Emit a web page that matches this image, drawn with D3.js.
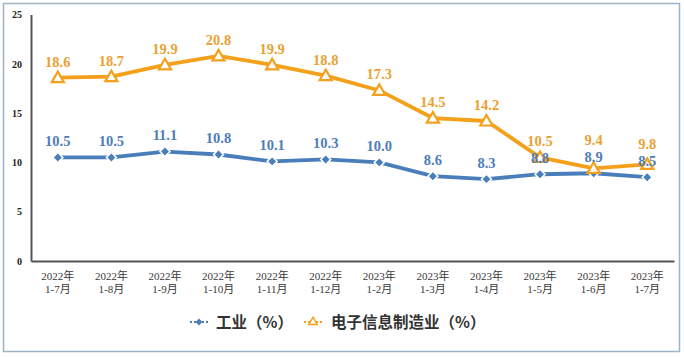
<!DOCTYPE html>
<html><head><meta charset="utf-8">
<script src="https://cdn.jsdelivr.net/npm/d3@7"></script>
<style>body{margin:0;background:#fff;}svg{display:block;}</style>
</head><body>
<svg id="c" width="684" height="357"></svg>
<script>
const categories = ["2022年|1-7月","2022年|1-8月","2022年|1-9月","2022年|1-10月","2022年|1-11月","2022年|1-12月","2023年|1-2月","2023年|1-3月","2023年|1-4月","2023年|1-5月","2023年|1-6月","2023年|1-7月"];
const industry = [10.5,10.5,11.1,10.8,10.1,10.3,10.0,8.6,8.3,8.8,8.9,8.5];
const electronics = [18.6,18.7,19.9,20.8,19.9,18.8,17.3,14.5,14.2,10.5,9.4,9.8];
const yTicks = [0,5,10,15,20,25];
const seriesNames = ["工业（%）","电子信息制造业（%）"];

const svg = d3.select("#c");
const blue = "#4A7EBB", orange = "#F5A01A";
const blueText = "#4F7DB8", orangeText = "#E9A232";

svg.append("rect").attr("x",3.5).attr("y",3.5).attr("width",676).attr("height",348)
  .attr("fill","#fff").attr("stroke","#9fb3c8").attr("stroke-width",1.5);

const x = d3.scaleBand().domain(categories).range([31,674]);
const y = d3.scaleLinear().domain([0,25]).range([261,14.5]);
const cx = d => x(d) + x.bandwidth()/2;

// y axis
const yAxis = svg.append("g").attr("transform","translate(31,0)")
  .call(d3.axisLeft(y).tickValues(yTicks).tickSize(0).tickPadding(9));
yAxis.select(".domain").attr("stroke","#555").attr("stroke-width",2);
yAxis.selectAll("text").attr("font-family","Liberation Serif, serif").attr("font-weight","bold")
  .attr("font-size",10).attr("fill","#222");

// x axis
const xAxis = svg.append("g").attr("transform","translate(0,261)")
  .call(d3.axisBottom(x).tickSize(0).tickFormat(""));
xAxis.select(".domain").attr("stroke","#555").attr("stroke-width",2);
xAxis.selectAll(".tick").each(function(d){
  const parts = d.split("|");
  const t = d3.select(this).append("text").attr("fill","#3a3a3a")
    .attr("font-family","Liberation Serif, Noto Sans CJK SC, serif").attr("font-size",11)
    .attr("text-anchor","middle");
  t.append("tspan").attr("x",0).attr("y",19).text(parts[0]);
  t.append("tspan").attr("x",0).attr("y",32).text(parts[1]);
});

const line = d3.line().x((d,i)=>cx(categories[i])).y(d=>y(d));

// industry line
svg.append("path").datum(industry).attr("d",line).attr("fill","none")
  .attr("stroke",blue).attr("stroke-width",3.8);
svg.append("g").selectAll("path").data(industry).join("path")
  .attr("d",d3.symbol(d3.symbolSquare,50)).attr("transform",(d,i)=>`translate(${cx(categories[i])},${y(d)}) rotate(45)`)
  .attr("fill",blue).attr("stroke","#fff").attr("stroke-width",1.5);

// electronics line
svg.append("path").datum(electronics).attr("d",line).attr("fill","none")
  .attr("stroke",orange).attr("stroke-width",3.8);
svg.append("g").selectAll("path").data(electronics).join("path")
  .attr("transform",(d,i)=>`translate(${cx(categories[i])},${y(d)+1})`)
  .attr("d",d3.symbol(d3.symbolTriangle,64))
  .attr("fill","#fff").attr("stroke",orange).attr("stroke-width",2.2);

// labels
const blueBase = industry.map(d => y(d) - 11.5);
svg.append("g").selectAll("text").data(industry).join("text")
  .attr("x",(d,i)=>cx(categories[i])).attr("y",(d,i)=>blueBase[i])
  .attr("text-anchor","middle").attr("font-family","Liberation Serif, serif").attr("font-weight","bold")
  .attr("font-size",14.5).attr("fill",blueText).text(d=>d.toFixed(1));
svg.append("g").selectAll("text").data(electronics).join("text")
  .attr("x",(d,i)=>cx(categories[i])).attr("y",(d,i)=>Math.min(y(d)-11, blueBase[i]-17))
  .attr("text-anchor","middle").attr("font-family","Liberation Serif, serif").attr("font-weight","bold")
  .attr("font-size",14.5).attr("fill",orangeText).text(d=>d.toFixed(1));

// legend
const lg = svg.append("g").attr("transform","translate(0,322)");
lg.append("line").attr("x1",190).attr("x2",208).attr("y1",0).attr("y2",0)
  .attr("stroke",blue).attr("stroke-width",2).attr("stroke-dasharray","2,2");
lg.append("path").attr("d",d3.symbol(d3.symbolSquare,24)).attr("transform","translate(199,0) rotate(45)").attr("fill",blue);
lg.append("text").attr("x",216).attr("y",5.5).attr("font-family","Noto Sans CJK SC, sans-serif")
  .attr("font-weight","bold").attr("font-size",15.5).attr("fill","#333").text(seriesNames[0]);
lg.append("line").attr("x1",304).attr("x2",322).attr("y1",0).attr("y2",0)
  .attr("stroke",orange).attr("stroke-width",2).attr("stroke-dasharray","2,2");
lg.append("path").attr("d",d3.symbol(d3.symbolTriangle,30)).attr("transform","translate(313,0)")
  .attr("fill","#fff").attr("stroke",orange).attr("stroke-width",1.5);
lg.append("text").attr("x",331).attr("y",5.5).attr("font-family","Noto Sans CJK SC, sans-serif")
  .attr("font-weight","bold").attr("font-size",15.5).attr("fill","#333").text(seriesNames[1]);
</script>
</body></html>
